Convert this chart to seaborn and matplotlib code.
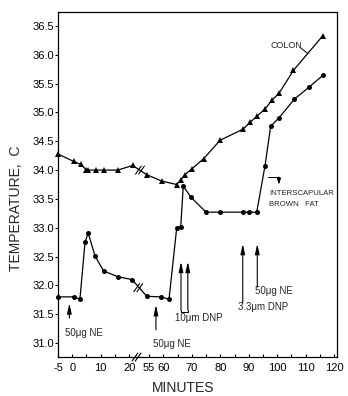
import numpy as np
import pandas as pd
import matplotlib
matplotlib.use("Agg")
import matplotlib.pyplot as plt
import seaborn as sns

# ---------------- data ----------------
colon_minutes = [-5, 0.5, 3, 5, 5.7, 8.3, 11, 16, 21.2, 54.2, 59.4, 64.7, 66.1,
                 67.6, 70, 74.2, 80, 88, 90.5, 93, 95.7, 98.3, 100.6, 105.7, 116]
colon_temp = [34.28, 34.15, 34.10, 34.0, 34.0, 34.0, 34.0, 34.0, 34.08, 33.92,
              33.81, 33.75, 33.83, 33.92, 34.02, 34.2, 34.52, 34.71, 34.83,
              34.94, 35.06, 35.22, 35.33, 35.73, 36.33]

fat_minutes = [-5, 0.5, 2.7, 4.5, 5.6, 8, 11, 16, 21, 54.2, 59.2, 62, 64.7,
               66.1, 67, 69.7, 75, 80, 88, 90.2, 92.8, 95.7, 97.7, 100.7, 106,
               111.2, 116.2]
fat_temp = [31.8, 31.8, 31.76, 32.75, 32.91, 32.51, 32.25, 32.15, 32.1, 31.81,
            31.8, 31.76, 33.0, 33.01, 33.72, 33.53, 33.27, 33.27, 33.27, 33.27,
            33.27, 34.07, 34.76, 34.91, 35.23, 35.44, 35.65]

x_tick_minutes = [-5, 0, 10, 20, 55, 60, 70, 80, 90, 100, 110, 120]
x_tick_labels = ["-5", "0", "10", "20", "55", "60", "70", "80", "90", "100", "110", "120"]
x_minor_minutes = [5, 15, 65, 75, 85, 95, 105, 115]
y_ticks = [31.0, 31.5, 32.0, 32.5, 33.0, 33.5, 34.0, 34.5, 35.0, 35.5, 36.0, 36.5]
y_tick_labels = ["31.0", "31.5", "32.0", "32.5", "33.0", "33.5", "34.0",
                 "34.5", "35.0", "35.5", "36.0", "36.5"]

GAP = 28  # minutes cut out by the axis break (between 20 and 55)


def to_axis(t):
    t = np.asarray(t, dtype=float)
    return np.where(t > 40, t - GAP, t)


# ---------------- figure ----------------
sns.set_theme(style="white")
plt.rcParams["font.family"] = ["Liberation Sans", "DejaVu Sans"]

fig = plt.figure(figsize=(3.48, 3.96), dpi=100)
ax = fig.add_axes([58 / 348, 1 - 357 / 396, (337 - 58) / 348, (357 - 12) / 396])

colon_df = pd.DataFrame({"x": to_axis(colon_minutes), "T": colon_temp})
fat_df = pd.DataFrame({"x": to_axis(fat_minutes), "T": fat_temp})

sns.lineplot(data=colon_df, x="x", y="T", ax=ax, color="black", lw=0.9,
             marker="^", markersize=4.6, markeredgewidth=0, sort=False,
             clip_on=False)
sns.lineplot(data=fat_df, x="x", y="T", ax=ax, color="black", lw=0.9,
             marker="o", markersize=3.6, markeredgewidth=0, sort=False,
             clip_on=False)

ax.set_xlim(-5, 93)
ax.set_ylim(30.757, 36.743)

ax.set_xticks(to_axis(x_tick_minutes))
ax.set_xticklabels(x_tick_labels)
ax.set_xticks(to_axis(x_minor_minutes), minor=True)
ax.set_yticks(y_ticks)
ax.set_yticklabels(y_tick_labels)
ax.tick_params(axis="x", which="both", direction="in", length=2.5, width=0.8,
               labelsize=8, pad=4, bottom=True, colors="black")
ax.tick_params(axis="y", direction="out", length=2, width=0.8, labelsize=8,
               pad=1, left=True, colors="black")

for s in ax.spines.values():
    s.set_color("black")
    s.set_linewidth(0.9)

ax.set_xlabel("")
ax.set_ylabel("TEMPERATURE,  C", fontsize=10)
ax.yaxis.set_label_coords(-0.125, 0.432)
fig.text(183 / 348, 1 - 388 / 396, "MINUTES", fontsize=10, ha="center", va="center")


# break marks "//"
def break_mark(xc, yc, clip=True):
    for dx in (-0.55, 0.55):
        ax.plot([xc + dx - 1.0, xc + dx + 1.0], [yc - 0.07, yc + 0.07],
                color="black", lw=0.8, clip_on=clip)


break_mark(23.8, 34.0)
break_mark(23.2, 31.96)
break_mark(22.6, 30.757, clip=False)

# injection arrows
arrow_kw = dict(arrowstyle="-|>,head_length=0.5,head_width=0.11", color="black",
                lw=0.8, shrinkA=0, shrinkB=0)


def up_arrow(xu, y0, y1):
    ax.annotate("", xy=(xu, y1), xytext=(xu, y0), arrowprops=arrow_kw)


up_arrow(to_axis(-1), 31.43, 31.69)
ax.text(-2.5, 31.17, "50μg NE", fontsize=7, ha="left", va="center")

up_arrow(to_axis(57.4), 31.23, 31.66)
ax.text(28.4, 30.98, "50μg NE", fontsize=7, ha="left", va="center")

for m in (66.2, 68.6):
    up_arrow(to_axis(m), 31.57, 32.41)
ax.plot([to_axis(66.2), to_axis(66.2), to_axis(68.6), to_axis(68.6)],
        [31.57, 31.54, 31.54, 31.57], color="black", lw=0.7)
ax.text(36.1, 31.43, "10μm DNP", fontsize=7, ha="left", va="center")

up_arrow(to_axis(87.9), 31.69, 32.72)
ax.text(58.2, 31.63, "3.3μm DNP", fontsize=7, ha="left", va="center")

up_arrow(to_axis(93.0), 31.97, 32.72)
ax.text(64.2, 31.90, "50μg NE", fontsize=7, ha="left", va="center")

# curve labels
ax.text(69.5, 36.17, "COLON", fontsize=6.5, ha="left", va="center")
ax.plot([80.0, 82.8], [36.13, 36.02], color="black", lw=0.7)

ax.text(69.1, 33.60, "INTERSCAPULAR", fontsize=5.6, ha="left", va="center")
ax.text(69.1, 33.41, "BROWN   FAT", fontsize=5.6, ha="left", va="center")
ax.plot([68.8, 72.6], [33.88, 33.88], color="black", lw=0.7)
ax.annotate("", xy=(72.6, 33.75), xytext=(72.6, 33.88),
            arrowprops=dict(arrowstyle="-|>,head_length=0.3,head_width=0.1",
                            color="black", lw=0.7, shrinkA=0, shrinkB=0))

fig.savefig("out.png", dpi=100)
